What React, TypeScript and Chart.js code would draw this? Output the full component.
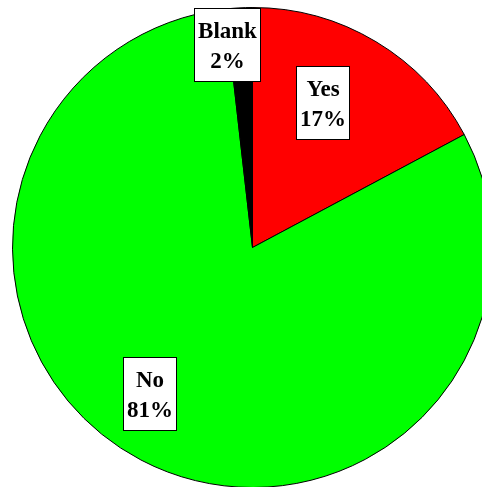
import React, { useEffect, useRef } from "react";
import { Chart, registerables } from "chart.js";

Chart.register(...registerables);

const categories = ["Yes", "No", "Blank"];
const values = [17.2, 81.0, 1.8];
const colors = ["#FF0000", "#00FF00", "#000000"];

// label layout: angle adjustment (degrees) and radial fraction per slice
const labelLayout = [
  { dAngle: -5, frac: 0.67 },
  { dAngle: 7.5, frac: 0.745 },
  { dAngle: -3.8, frac: 0.854 },
];

const boxLabelPlugin = {
  id: "boxLabels",
  afterDatasetsDraw(chart: any) {
    const ctx = chart.ctx as CanvasRenderingContext2D;
    const meta = chart.getDatasetMeta(0);
    const data = chart.data.datasets[0].data as number[];
    const total = data.reduce((a, b) => a + b, 0);
    ctx.save();
    ctx.font = "bold 23px 'Liberation Serif', 'Times New Roman', serif";
    meta.data.forEach((arc: any, i: number) => {
      const p = arc.getProps(["x", "y", "startAngle", "endAngle", "outerRadius"], true);
      const lay = labelLayout[i];
      const mid = (p.startAngle + p.endAngle) / 2 + (lay.dAngle * Math.PI) / 180;
      const r = p.outerRadius * lay.frac;
      const cx = p.x + Math.cos(mid) * r;
      const cy = p.y + Math.sin(mid) * r;
      const line1 = chart.data.labels[i];
      const line2 = Math.round((data[i] / total) * 100) + "%";
      const w = Math.round(Math.max(ctx.measureText(line1).width, ctx.measureText(line2).width) + 7);
      const h = 73;
      const bx = Math.round(cx - w / 2) + 0.5;
      const by = Math.round(cy - h / 2) + 0.5;
      ctx.fillStyle = "#FFFFFF";
      ctx.fillRect(bx, by, w, h);
      ctx.strokeStyle = "#000000";
      ctx.lineWidth = 1;
      ctx.strokeRect(bx, by, w, h);
      ctx.fillStyle = "#000000";
      ctx.textAlign = "center";
      ctx.textBaseline = "alphabetic";
      const tx = bx + w / 2;
      ctx.fillText(line1, tx, by + h / 2 - 7);
      ctx.fillText(line2, tx, by + h / 2 + 23);
    });
    ctx.restore();
  },
};

export default function App() {
  const ref = useRef<HTMLCanvasElement>(null);
  useEffect(() => {
    if (!ref.current) return;
    const chart = new Chart(ref.current, {
      type: "pie",
      data: {
        labels: categories,
        datasets: [
          {
            data: values,
            backgroundColor: colors,
            borderColor: "#000000",
            borderWidth: 1,
            hoverOffset: 0,
          },
        ],
      },
      options: {
        animation: false,
        responsive: true,
        maintainAspectRatio: false,
        events: [],
        layout: { padding: 0 },
        plugins: {
          legend: { display: false },
          tooltip: { enabled: false },
        },
      },
      plugins: [boxLabelPlugin],
    });
    return () => chart.destroy();
  }, []);
  return (
    <div
      style={{
        position: "fixed",
        left: 0,
        top: 0,
        width: 482,
        height: 487,
        overflow: "hidden",
        background: "#FFFFFF",
      }}
    >
      <div style={{ position: "absolute", left: 12, top: 7, width: 481, height: 481 }}>
        <canvas ref={ref} />
      </div>
    </div>
  );
}
